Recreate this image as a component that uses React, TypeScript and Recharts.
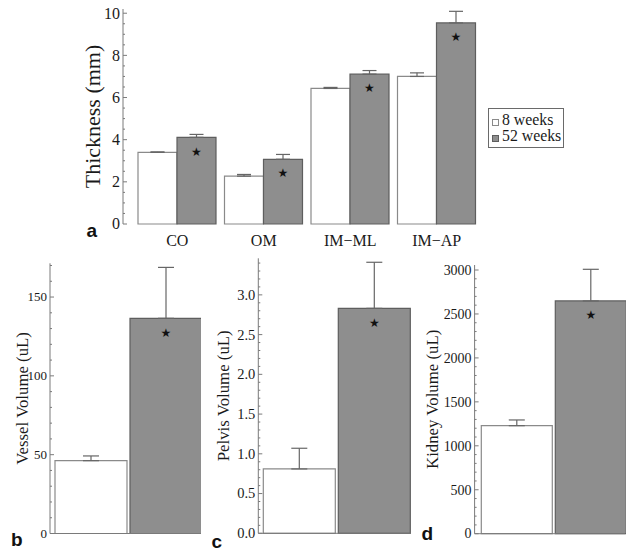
import { Bar, BarChart, ErrorBar, LabelList, Legend, XAxis, YAxis } from "recharts";

const SERIF = '"Liberation Serif", "Times New Roman", serif';
const SANS = '"Liberation Sans", Arial, sans-serif';
const AXIS = "#7a7a7a";
const INK = "#1a1a1a";
const WHITE_FILL = "#ffffff";
const WHITE_EDGE = "#8a8a8a";
const GREY_FILL = "#8e8e8e";
const GREY_EDGE = "#5e5e5e";
const ERR = "#666666";

const seriesNames = ["8 weeks", "52 weeks"];

// panel a: tissue thickness (mm)
const thicknessGroups = ["CO", "OM", "IM\u2212ML", "IM\u2212AP"];
const thickness8 = [3.4, 2.27, 6.43, 7.0];
const thickness8Err = [0.02, 0.08, 0.05, 0.17];
const thickness52 = [4.11, 3.07, 7.11, 9.54];
const thickness52Err = [0.14, 0.23, 0.17, 0.55];
const thicknessMajor = [0, 2, 4, 6, 8, 10];

// panels b-d: volumes (uL), [8 weeks, 52 weeks]
const vesselMeans = [46.2, 136.5];
const vesselErr = [3.0, 32.3];
const vesselMajor = [0, 50, 100, 150];

const pelvisMeans = [0.81, 2.83];
const pelvisErr = [0.26, 0.58];
const pelvisMajor = [0, 0.5, 1, 1.5, 2, 2.5, 3];

const kidneyMeans = [1229, 2648];
const kidneyErr = [65, 360];
const kidneyMajor = [0, 500, 1000, 1500, 2000, 2500, 3000];

const thicknessData = thicknessGroups.map((g, i) => ({
  group: g,
  w8: thickness8[i],
  w8Err: [0, thickness8Err[i]],
  w52: thickness52[i],
  w52Err: [0, thickness52Err[i]],
}));

function volumeRow(means: number[], errs: number[]) {
  return [{ group: "v", w8: means[0], w8Err: [0, errs[0]], w52: means[1], w52Err: [0, errs[1]] }];
}

// minor tick marks along the value axis
function tickSteps(max: number, step: number) {
  const out: number[] = [];
  for (let i = 0; i * step <= max + 1e-9; i++) out.push(Math.round(i * step * 1000) / 1000);
  return out;
}

function makeTick(majors: number[], format: (v: number) => string, fontSize: number) {
  return function Tick(props: any) {
    const { x, y, payload } = props;
    const major = majors.some((m) => Math.abs(m - payload.value) < 1e-6);
    return (
      <g>
        <line x1={x} x2={x + (major ? 4 : 2)} y1={y} y2={y} stroke={AXIS} strokeWidth={1} />
        {major && (
          <text x={x - 3} y={y} dy="0.34em" textAnchor="end" fontSize={fontSize} fill={INK} fontFamily={SERIF}>
            {format(payload.value)}
          </text>
        )}
      </g>
    );
  };
}

function Star(props: any) {
  const x = Number(props.x) + Number(props.width) / 2;
  const y = Number(props.y) + 14;
  return (
    <text x={x} y={y} dy="0.35em" textAnchor="middle" fontSize={12} fill="#111" fontFamily='"DejaVu Sans", sans-serif'>
      ★
    </text>
  );
}

function LegendBox() {
  const fills = [WHITE_FILL, GREY_FILL];
  const edges = [WHITE_EDGE, GREY_EDGE];
  return (
    <div
      style={{
        border: "1px solid #6a6a6a",
        background: "#fff",
        display: "inline-block",
        padding: "3px 2px 3px 3px",
        fontFamily: SERIF,
        fontSize: 15.8,
        lineHeight: "16px",
        color: INK,
      }}
    >
      {seriesNames.map((name, i) => (
        <div key={name} style={{ display: "flex", alignItems: "center", whiteSpace: "nowrap" }}>
          <span
            style={{
              display: "inline-block",
              width: 5,
              height: 5,
              marginRight: 3,
              marginTop: 4,
              background: fills[i],
              border: `1px solid ${edges[i]}`,
            }}
          />
          <span>{name}</span>
        </div>
      ))}
    </div>
  );
}

const thicknessTick = makeTick(thicknessMajor, (v) => String(v), 16);

function ThicknessChart() {
  return (
    <BarChart
      width={632}
      height={260}
      data={thicknessData}
      margin={{ top: 9, right: 141, bottom: 6, left: 61 }}
      barGap={0}
      barCategoryGap={4}
    >
      <XAxis
        dataKey="group"
        axisLine={false}
        tickLine={false}
        tickSize={0}
        tickMargin={11}
        padding={{ left: 11, right: 11 }}
        height={30}
        interval={0}
        tick={{ fontSize: 16, fill: INK, fontFamily: SERIF }}
      />
      <YAxis
        type="number"
        domain={[0, 10.2]}
        ticks={tickSteps(10, 0.5)}
        interval={0}
        width={62}
        axisLine={{ stroke: AXIS }}
        tickLine={false}
        tickSize={0}
        tickMargin={0}
        tick={thicknessTick}
        label={{ value: "Thickness (mm)", angle: -90, position: "center", fontSize: 22, fill: INK, fontFamily: SERIF }}
      />
      <Legend
        layout="horizontal"
        align="center"
        verticalAlign="middle"
        content={() => <LegendBox />}
        wrapperStyle={{ left: 488, top: 108, width: 90 }}
      />
      <Bar dataKey="w8" name={seriesNames[0]} fill={WHITE_FILL} stroke={WHITE_EDGE} strokeWidth={1.2} isAnimationActive={false}>
        <ErrorBar dataKey="w8Err" direction="y" width={7} stroke={ERR} strokeWidth={1.2} />
      </Bar>
      <Bar dataKey="w52" name={seriesNames[1]} fill={GREY_FILL} stroke={GREY_EDGE} strokeWidth={1.2} isAnimationActive={false}>
        <ErrorBar dataKey="w52Err" direction="y" width={7} stroke={ERR} strokeWidth={1.2} />
        <LabelList content={Star} />
      </Bar>
    </BarChart>
  );
}

interface PanelProps {
  left: number;
  width: number;
  axisWidth: number;
  top: number;
  bottom: number;
  padLeft: number;
  max: number;
  ticks: number[];
  tick: (p: any) => any;
  label: string;
  means: number[];
  errs: number[];
}

function VolumePanel(p: PanelProps) {
  return (
    <div style={{ position: "absolute", left: p.left, top: 250, width: p.width, height: 302 }}>
      <BarChart
        width={p.width}
        height={302}
        data={volumeRow(p.means, p.errs)}
        margin={{ top: p.top, right: 0, bottom: p.bottom, left: 0 }}
        barGap={3}
        barCategoryGap={0}
      >
        <XAxis
          dataKey="group"
          tick={false}
          tickLine={false}
          height={2}
          padding={{ left: p.padLeft, right: 0 }}
          axisLine={{ stroke: AXIS }}
        />
        <YAxis
          type="number"
          domain={[0, p.max]}
          ticks={p.ticks}
          interval={0}
          width={p.axisWidth}
          axisLine={{ stroke: AXIS }}
          tickLine={false}
          tickSize={0}
          tickMargin={0}
          tick={p.tick}
          label={{ value: p.label, angle: -90, position: "center", fontSize: 16.8, fill: INK, fontFamily: SERIF }}
        />
        <Bar dataKey="w8" name={seriesNames[0]} fill={WHITE_FILL} stroke={WHITE_EDGE} strokeWidth={1.2} isAnimationActive={false}>
          <ErrorBar dataKey="w8Err" direction="y" width={8} stroke={ERR} strokeWidth={1.2} />
        </Bar>
        <Bar dataKey="w52" name={seriesNames[1]} fill={GREY_FILL} stroke={GREY_EDGE} strokeWidth={1.2} isAnimationActive={false}>
          <ErrorBar dataKey="w52Err" direction="y" width={8} stroke={ERR} strokeWidth={1.2} />
          <LabelList content={Star} />
        </Bar>
      </BarChart>
    </div>
  );
}

const vesselTick = makeTick(vesselMajor, (v) => String(v), 13);
const pelvisTick = makeTick(pelvisMajor, (v) => v.toFixed(1), 14.5);
const kidneyTick = makeTick(kidneyMajor, (v) => String(v), 14);

export default function App() {
  return (
    <div style={{ position: "absolute", left: 0, top: 0, width: 632, height: 552, background: "#fff", fontFamily: SERIF, overflow: "hidden" }}>
      <div style={{ position: "absolute", left: 0, top: 0 }}>
        <ThicknessChart />
      </div>
      <VolumePanel
        left={-6}
        width={207}
        axisWidth={56}
        top={13.3}
        bottom={16.5}
        padLeft={5}
        max={171.4}
        ticks={tickSteps(170, 10)}
        tick={vesselTick}
        label="Vessel Volume (uL)"
        means={vesselMeans}
        errs={vesselErr}
      />
      <VolumePanel
        left={187}
        width={224}
        axisWidth={71.3}
        top={8.3}
        bottom={16.7}
        padLeft={5}
        max={3.46}
        ticks={tickSteps(3.4, 0.1)}
        tick={pelvisTick}
        label="Pelvis Volume (uL)"
        means={pelvisMeans}
        errs={pelvisErr}
      />
      <VolumePanel
        left={390.4}
        width={235.3}
        axisWidth={84.6}
        top={15}
        bottom={16.3}
        padLeft={6.7}
        max={3057}
        ticks={tickSteps(3000, 100)}
        tick={kidneyTick}
        label="Kidney Volume (uL)"
        means={kidneyMeans}
        errs={kidneyErr}
      />
      <svg width={632} height={552} style={{ position: "absolute", left: 0, top: 0, pointerEvents: "none" }}>
        <g fontFamily={SANS} fontWeight="bold" fontSize={19} fill="#111">
          <text x={86.5} y={236.7}>a</text>
          <text x={11} y={545.5}>b</text>
          <text x={211.5} y={548}>c</text>
          <text x={421.5} y={540}>d</text>
        </g>
      </svg>
    </div>
  );
}
